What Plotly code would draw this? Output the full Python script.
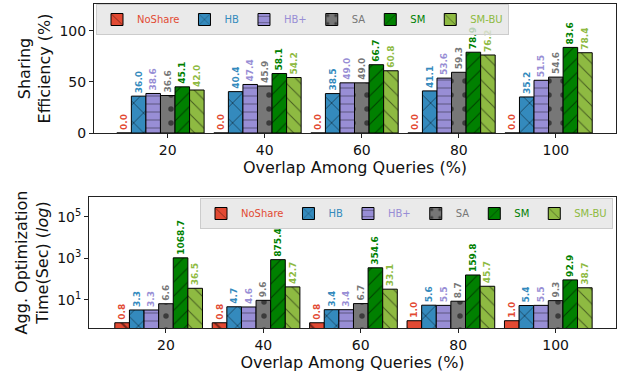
import plotly.graph_objects as go

categories = ["20", "40", "60", "80", "100"]
series = ["NoShare", "HB", "HB+", "SA", "SM", "SM-BU"]
colors = ["#E24A33", "#348ABD", "#988ED5", "#777777", "#008000", "#8EBA42"]
patterns = ["\\", "x", "-", ".", "/", "\\"]
pat_sizes = [22, 14, 8, 14, 10, 10]

eff_NoShare = [0.0, 0.0, 0.0, 0.0, 0.0]
eff_HB = [36.0, 40.4, 38.5, 41.1, 35.2]
eff_HBplus = [38.6, 47.4, 49.0, 53.6, 51.5]
eff_SA = [36.6, 45.9, 49.0, 59.3, 54.6]
eff_SM = [45.1, 58.1, 66.7, 78.9, 83.6]
eff_SMBU = [42.0, 54.2, 60.8, 76.2, 78.4]

time_NoShare = [0.8, 0.8, 0.8, 1.0, 1.0]
time_HB = [3.3, 4.7, 3.4, 5.6, 5.4]
time_HBplus = [3.3, 4.6, 3.4, 5.5, 5.5]
time_SA = [6.6, 9.6, 6.7, 8.7, 9.3]
time_SM = [1068.7, 875.4, 354.6, 159.8, 92.9]
time_SMBU = [36.5, 42.7, 33.1, 45.7, 38.7]

eff = [eff_NoShare, eff_HB, eff_HBplus, eff_SA, eff_SM, eff_SMBU]
tim = [time_NoShare, time_HB, time_HBplus, time_SA, time_SM, time_SMBU]

W, H = 628, 378
FONT = "DejaVu Sans"
bw = 0.15

fig = go.Figure()
for panel, data in enumerate([eff, tim]):
    xa = "x" if panel == 0 else "x2"
    ya = "y" if panel == 0 else "y2"
    lg = "legend" if panel == 0 else "legend2"
    for i, name in enumerate(series):
        fig.add_trace(go.Bar(
            x=categories, y=data[i], xaxis=xa, yaxis=ya, legend=lg,
            name=f"<span style='color:{colors[i]}'>{name}</span>",
            width=bw, offset=(i - 3.5) * bw,
            marker=dict(color=colors[i], line=dict(color="black", width=1),
                        pattern=dict(shape=patterns[i], fgcolor="black",
                                     size=pat_sizes[i], solidity=0.12 if patterns[i] in ".x" else 0.1)),
            texttemplate="%{y:.1f}", textposition="outside", textangle=-90,
            constraintext="none", cliponaxis=False,
            textfont=dict(color=colors[i], size=9, family=FONT, weight="bold"),
        ))

def px_x(p):
    return p / W

def px_y(p):
    return 1 - p / H

axis_common = dict(showline=True, linecolor="#222", linewidth=1, mirror=True,
                   ticks="outside", ticklen=4, tickcolor="#222", showgrid=False,
                   automargin=False,
                   tickfont=dict(size=14, family=FONT, color="#111"), zeroline=False)

legend_common = dict(orientation="h", bgcolor="rgba(229,229,229,0.8)", bordercolor="#cccccc",
                     borderwidth=1, font=dict(size=10, family=FONT), itemwidth=30,
                     tracegroupgap=0)

fig.update_layout(
    width=W, height=H, margin=dict(l=0, r=0, t=0, b=0, autoexpand=False),
    paper_bgcolor="white", plot_bgcolor="white", barmode="overlay",
    font=dict(family=FONT),
    xaxis=dict(domain=[px_x(94), px_x(616)], anchor="y", type="category",
               range=[-0.76, 4.62], **axis_common,
               title=dict(text="Overlap Among Queries (%)", font=dict(size=16, family=FONT, color="#111"), standoff=4)),
    yaxis=dict(domain=[px_y(133), px_y(4)], anchor="x", range=[0, 126],
               tickvals=[0, 50, 100], **axis_common,
               title=dict(text="Sharing<br>Efficiency (%)", font=dict(size=16, family=FONT, color="#111"), standoff=4)),
    xaxis2=dict(domain=[px_x(89), px_x(616)], anchor="y2", type="category",
                range=[-0.79, 4.62], **axis_common,
                title=dict(text="Overlap Among Queries (%)", font=dict(size=16, family=FONT, color="#111"), standoff=4)),
    yaxis2=dict(domain=[px_y(328), px_y(197)], anchor="x2", type="log", range=[-0.35, 5.96],
                tickvals=[10, 1000, 100000],
                ticktext=["10<sup>1</sup>", "10<sup>3</sup>", "10<sup>5</sup>"], **axis_common,
                title=dict(text="Agg. Optimization<br>Time(Sec) (<i>log</i>)", font=dict(size=16, family=FONT, color="#111"), standoff=4)),
    legend=dict(x=px_x(96), y=px_y(4), xanchor="left", yanchor="top", **legend_common),
    legend2=dict(x=px_x(613), y=px_y(198), xanchor="right", yanchor="top", **legend_common),
    showlegend=True,
)

fig.add_annotation(text="<b>Figure 11: Increasing overlap among queries</b>",
                   xref="paper", yref="paper", x=px_x(30), y=px_y(372),
                   xanchor="left", yanchor="top", showarrow=False,
                   font=dict(size=22, family="Liberation Serif", color="#111"))

fig.write_html("out.html", config={"displayModeBar": False},
               post_script="document.body.style.margin='0';document.body.style.overflow='hidden';")
